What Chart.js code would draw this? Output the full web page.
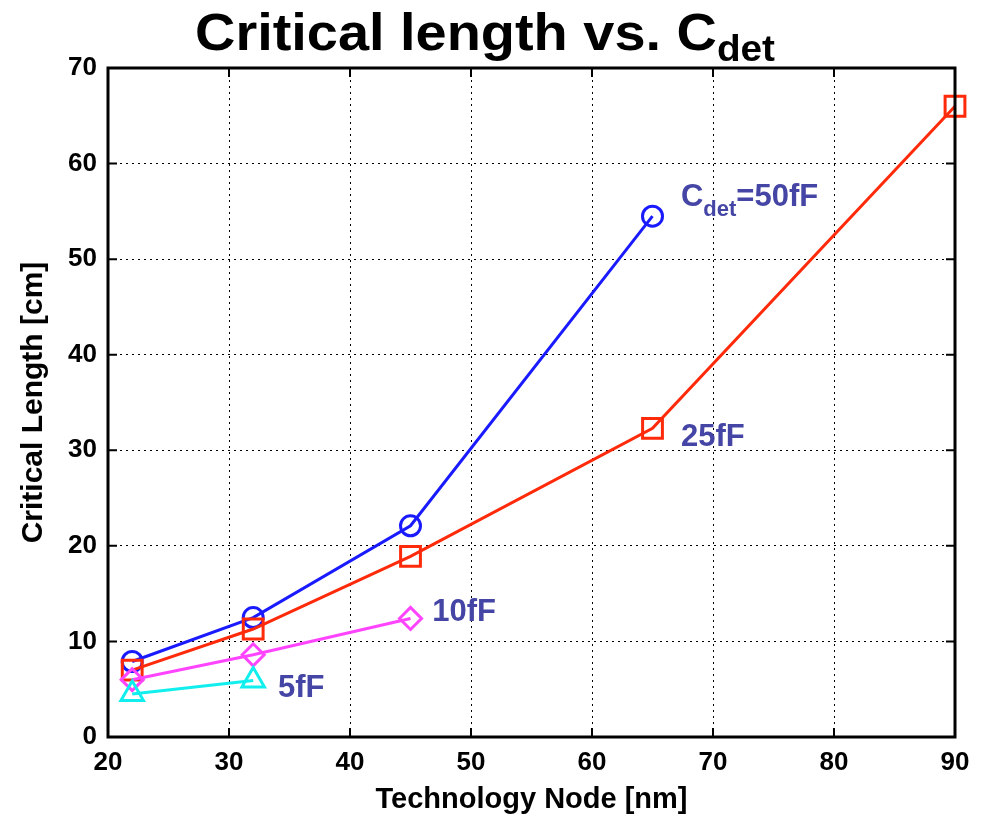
<!DOCTYPE html>
<html>
<head>
<meta charset="utf-8">
<script src="https://cdn.jsdelivr.net/npm/chart.js@4"></script>
<style>
  html, body { margin: 0; padding: 0; background: #fff; }
  #wrap { width: 982px; height: 814px; }
</style>
</head>
<body>
<div id="wrap"><canvas id="c" width="982" height="814"></canvas></div>
<script>
// Technology nodes [nm] and critical lengths [cm] per detector capacitance
const nodes50 = [22, 32, 45, 65];
const len50 = [7.9, 12.5, 22.1, 54.5];
const nodes25 = [22, 32, 45, 65, 90];
const len25 = [7.0, 11.3, 18.9, 32.3, 66.0];
const nodes10 = [22, 32, 45];
const len10 = [6.0, 8.6, 12.4];
const nodes5 = [22, 32];
const len5 = [4.5, 5.9];

const xTicks = [20, 30, 40, 50, 60, 70, 80, 90];
const yTicks = [0, 10, 20, 30, 40, 50, 60, 70];

// Curve labels: [main text, subscript, trailing text, x, y]
const curveLabels = [
  ['C', 'det', '=50fF', 67.35, 56.5],
  ['25fF', '', '', 67.35, 31.3],
  ['10fF', '', '', 46.8, 13.0],
  ['5fF', '', '', 34.05, 5.1]
];

const FONT = '"Liberation Sans", Arial, Helvetica, sans-serif';

function pts(xs, ys) { return xs.map((x, i) => ({ x: x, y: ys[i] })); }

function series(label, xs, ys, color, style, radius) {
  return {
    label: label,
    data: pts(xs, ys),
    borderColor: color,
    backgroundColor: 'rgba(0,0,0,0)',
    borderWidth: 3,
    pointStyle: style,
    pointRadius: radius,
    pointHoverRadius: radius,
    pointBorderWidth: 3,
    pointBorderColor: color,
    pointBackgroundColor: 'rgba(0,0,0,0)',
    tension: 0,
    clip: false
  };
}

// Title with subscript, axes box with inward ticks, curve labels
const decor = {
  id: 'decor',
  afterDatasetsDraw(chart) {
    const { ctx, chartArea: a, scales: { x, y } } = chart;
    ctx.save();
    // box
    ctx.strokeStyle = '#000';
    ctx.lineWidth = 3;
    ctx.strokeRect(a.left, a.top, a.right - a.left, a.bottom - a.top);
    // inward ticks
    ctx.lineWidth = 2;
    const tl = 9;
    xTicks.forEach(v => {
      const px = x.getPixelForValue(v);
      ctx.beginPath();
      ctx.moveTo(px, a.bottom); ctx.lineTo(px, a.bottom - tl);
      ctx.moveTo(px, a.top); ctx.lineTo(px, a.top + tl);
      ctx.stroke();
    });
    yTicks.forEach(v => {
      const py = y.getPixelForValue(v);
      ctx.beginPath();
      ctx.moveTo(a.left, py); ctx.lineTo(a.left + tl, py);
      ctx.moveTo(a.right, py); ctx.lineTo(a.right - tl, py);
      ctx.stroke();
    });
    // curve labels
    ctx.fillStyle = '#4545a5';
    ctx.textBaseline = 'middle';
    ctx.textAlign = 'left';
    curveLabels.forEach(([main, sub, tail, lx, ly]) => {
      let px = x.getPixelForValue(lx);
      const py = y.getPixelForValue(ly);
      ctx.font = 'bold 31px ' + FONT;
      ctx.fillText(main, px, py);
      px += ctx.measureText(main).width;
      if (sub) {
        ctx.font = 'bold 22px ' + FONT;
        ctx.fillText(sub, px, py + 13);
        px += ctx.measureText(sub).width;
      }
      if (tail) {
        ctx.font = 'bold 31px ' + FONT;
        ctx.fillText(tail, px, py);
      }
    });
    // title, slightly widened
    ctx.fillStyle = '#000';
    ctx.textBaseline = 'alphabetic';
    const sx = 1.075;
    const t1 = 'Critical length vs. C';
    const t2 = 'det';
    ctx.font = 'bold 52px ' + FONT;
    const w1 = ctx.measureText(t1).width;
    ctx.font = 'bold 36px ' + FONT;
    const w2 = ctx.measureText(t2).width;
    const start = 485 - sx * (w1 + w2) / 2;
    ctx.translate(start, 0);
    ctx.scale(sx, 1);
    ctx.font = 'bold 52px ' + FONT;
    ctx.fillText(t1, 0, 50);
    ctx.font = 'bold 36px ' + FONT;
    ctx.fillText(t2, w1, 61);
    ctx.restore();
  }
};

new Chart(document.getElementById('c'), {
  type: 'line',
  data: {
    datasets: [
      series('50fF', nodes50, len50, '#1a1aff', 'circle', 10),
      series('25fF', nodes25, len25, '#ff2a0a', 'rect', 14),
      series('10fF', nodes10, len10, '#ff44ff', 'rectRot', 11),
      series('5fF', nodes5, len5, '#11eeee', 'triangle', 13)
    ].reverse()
  },
  options: {
    responsive: false,
    animation: false,
    layout: { padding: { left: 0, top: 68, right: 27, bottom: 0 } },
    plugins: {
      legend: { display: false },
      tooltip: { enabled: false },
      title: { display: false }
    },
    scales: {
      x: {
        type: 'linear',
        min: 20, max: 90,
        afterBuildTicks: s => { s.ticks = xTicks.map(v => ({ value: v })); },
        afterFit: s => { s.height = 77; },
        grid: { color: '#000', lineWidth: 1, drawTicks: false },
        border: { display: false, dash: [2, 4] },
        ticks: { color: '#000', font: { family: FONT, size: 26, weight: 'bold' }, padding: 10, maxRotation: 0 },
        title: { display: true, text: 'Technology Node [nm]', color: '#000', font: { family: FONT, size: 29, weight: 'bold' }, padding: { top: 0, bottom: -3 } }
      },
      y: {
        type: 'linear',
        min: 0, max: 70,
        afterBuildTicks: s => { s.ticks = yTicks.map(v => ({ value: v })); },
        afterFit: s => { s.width = 108; },
        grid: { color: '#000', lineWidth: 1, drawTicks: false },
        border: { display: false, dash: [2, 4] },
        ticks: { color: '#000', font: { family: FONT, size: 26, weight: 'bold' }, padding: 11 },
        title: { display: true, text: 'Critical Length [cm]', color: '#000', font: { family: FONT, size: 30, weight: 'bold' }, padding: { top: 16, bottom: 0 } }
      }
    }
  },
  plugins: [decor]
});
</script>
</body>
</html>
